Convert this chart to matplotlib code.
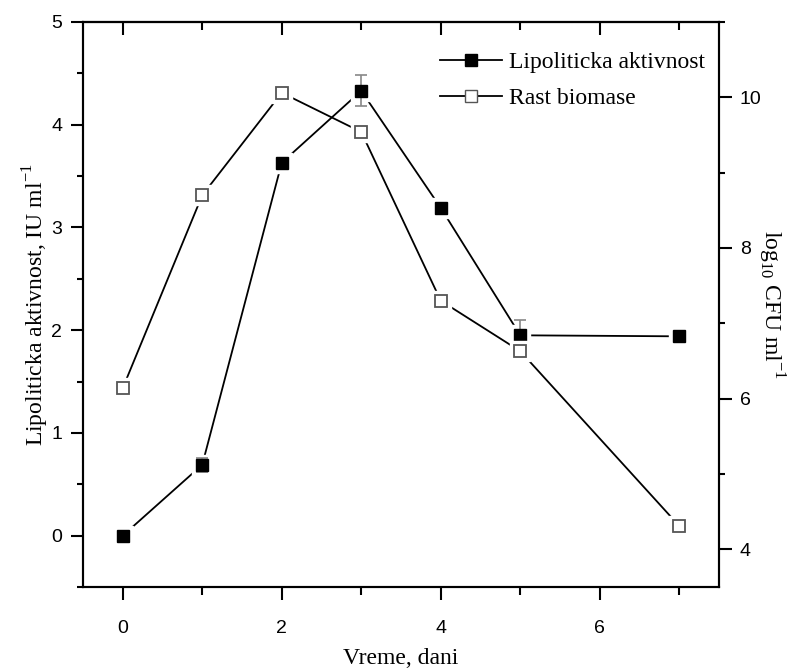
import matplotlib
matplotlib.use("Agg")
import matplotlib.pyplot as plt
from matplotlib.ticker import MultipleLocator
from matplotlib.lines import Line2D

# Data
days_lip = [0, 1, 2, 3, 4, 5, 7]
lipolytic = [0.0, 0.69, 3.63, 4.33, 3.19, 1.95, 1.94]
lipolytic_err = [0.0, 0.07, 0.0, 0.15, 0.0, 0.15, 0.0]
days_bio = [0, 1, 2, 3, 4, 5, 7]
biomass = [6.14, 8.70, 10.06, 9.54, 7.30, 6.63, 4.31]

serif = 'Liberation Serif'
sans = 'Liberation Sans'
plt.rcParams['font.family'] = [sans, 'DejaVu Sans']
plt.rcParams['mathtext.fontset'] = 'custom'
plt.rcParams['mathtext.rm'] = serif

fig = plt.figure(figsize=(8.05, 6.72), dpi=100)
ax = fig.add_axes([0.1031, 0.1265, 0.7901, 0.8408])
ax2 = ax.twinx()

ms = 8
gap_ms = 14
lw = 1.3

# Lipolytic activity (left axis)
ax.plot(days_lip, lipolytic, color='black', lw=lw, zorder=2)
ax.errorbar(days_lip, lipolytic, yerr=lipolytic_err, fmt='none', ecolor='#888888',
            elinewidth=1.2, capsize=4, capthick=1.2, zorder=3)
ax.plot(days_lip, lipolytic, ls='none', marker='s', ms=gap_ms, mfc='white', mec='white', zorder=2.5)
ax.plot(days_lip, lipolytic, ls='none', marker='s', ms=ms, mfc='black', mec='black', zorder=4)

# Biomass (right axis)
ax2.plot(days_bio, biomass, color='black', lw=lw, zorder=2)
ax2.plot(days_bio, biomass, ls='none', marker='s', ms=gap_ms, mfc='white', mec='white', zorder=2.5)
ax2.plot(days_bio, biomass, ls='none', marker='s', ms=ms, mfc='white', mec='#555555', mew=1.3, zorder=4)

ax.set_xlim(-0.5, 7.5)
ax.set_ylim(-0.5, 5)
ax2.set_ylim(3.5, 11)

ax.xaxis.set_major_locator(MultipleLocator(2))
ax.xaxis.set_minor_locator(MultipleLocator(1))
ax.yaxis.set_major_locator(MultipleLocator(1))
ax.yaxis.set_minor_locator(MultipleLocator(0.5))
ax2.yaxis.set_major_locator(MultipleLocator(2))
ax2.yaxis.set_minor_locator(MultipleLocator(1))

for a in (ax, ax2):
    for s in a.spines.values():
        s.set_linewidth(1.5)

ax.tick_params(axis='x', which='both', direction='out', top=False, bottom=True, width=1.5)
ax.tick_params(axis='x', which='major', length=9, labelsize=14, pad=15)
ax.tick_params(axis='x', which='minor', length=6)
ax.tick_params(axis='y', which='both', direction='out', width=1.5, left=True, right=False)
ax.tick_params(axis='y', which='major', length=9, labelsize=14, pad=6)
ax.tick_params(axis='y', which='minor', length=4)
ax2.tick_params(axis='y', which='both', direction='out', width=1.5)
ax2.tick_params(axis='y', which='major', length=9, labelsize=14, pad=6)
ax2.tick_params(axis='y', which='minor', length=4)

# top inward ticks
secx = ax.secondary_xaxis('top')
secx.xaxis.set_major_locator(MultipleLocator(2))
secx.xaxis.set_minor_locator(MultipleLocator(1))
secx.tick_params(axis='x', which='both', direction='in', labeltop=False, width=1.5)
secx.tick_params(axis='x', which='major', length=9)
secx.tick_params(axis='x', which='minor', length=6)
secx.spines['top'].set_linewidth(1.5)

ax.set_xlabel('Vreme, dani', fontfamily=serif, fontsize=17, labelpad=8)
ax.set_ylabel('Lipoliticka aktivnost, IU ml$^{\\mathregular{-1}}$', fontfamily=serif, fontsize=17, labelpad=0)
ax2.set_ylabel('log$_{\\mathregular{10}}$ CFU ml$^{\\mathregular{-1}}$', fontfamily=serif, fontsize=17,
               rotation=270, labelpad=18)

handles = [
    Line2D([], [], color='black', lw=lw, marker='s', ms=ms, mfc='black', mec='black'),
    Line2D([], [], color='black', lw=lw, marker='s', ms=ms, mfc='white', mec='#555555'),
]
leg = ax2.legend(handles, ['Lipoliticka aktivnost', 'Rast biomase'], loc='upper right',
                 bbox_to_anchor=(1.0, 0.972), frameon=False, handlelength=2.6, handletextpad=0.3,
                 labelspacing=0.6, borderaxespad=0.2, prop={'family': serif, 'size': 17})
leg.set_zorder(10)

fig.savefig('out.png', dpi=100)
